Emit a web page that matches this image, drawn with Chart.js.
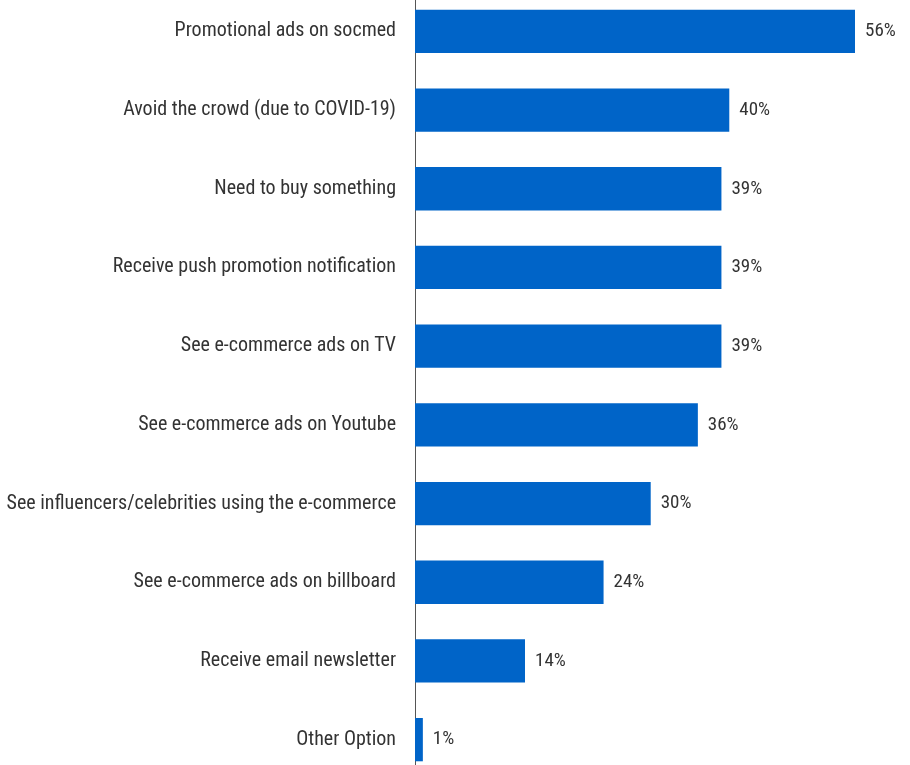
<!DOCTYPE html>
<html>
<head>
<meta charset="utf-8">
<script src="https://cdn.jsdelivr.net/npm/chart.js@4/dist/chart.umd.min.js"></script>
<style>
  html, body { margin: 0; padding: 0; background: #fff; overflow: hidden; }
  #wrap { position: absolute; left: 0; top: -8px; width: 910px; height: 787px; }
</style>
</head>
<body>
<div id="wrap"><canvas id="grafico"></canvas></div>
<script>
// categorias e valores (%)
const categorias = [
    'Promotional ads on socmed',
    'Avoid the crowd (due to COVID-19)',
    'Need to buy something',
    'Receive push promotion notification',
    'See e-commerce ads on TV',
    'See e-commerce ads on Youtube',
    'See influencers/celebrities using the e-commerce',
    'See e-commerce ads on billboard',
    'Receive email newsletter',
    'Other Option'
];
const valores = [56, 40, 39, 39, 39, 36, 30, 24, 14, 1];
const rotulos = ['56%', '40%', '39%', '39%', '39%', '36%', '30%', '24%', '14%', '1%'];

const fonte = "'Roboto Condensed', 'DejaVu Sans Condensed', sans-serif";

// escreve o valor na ponta de cada barra
const rotuloPlugin = {
    id: 'rotuloPlugin',
    afterDatasetsDraw: (chart) => {
        const { ctx } = chart;
        const meta = chart.getDatasetMeta(0);
        ctx.save();
        ctx.fillStyle = '#333';
        ctx.font = '19px ' + fonte;
        ctx.textAlign = 'left';
        ctx.textBaseline = 'middle';
        meta.data.forEach((bar, i) => {
            ctx.fillText(rotulos[i], bar.x + 10, bar.y);
        });
        ctx.restore();
    }
};

const config = {
    type: 'bar',
    data: {
        labels: categorias,
        datasets: [{
            data: valores,
            backgroundColor: '#0064c8',
            borderWidth: 0,
            categoryPercentage: 1,
            barPercentage: 0.55
        }]
    },
    options: {
        indexAxis: 'y',
        responsive: true,
        maintainAspectRatio: false,
        animation: false,
        layout: { padding: 0 },
        plugins: {
            legend: { display: false },
            tooltip: { enabled: false }
        },
        scales: {
            x: {
                display: false,
                min: 0,
                max: 63
            },
            y: {
                afterFit: (scale) => {
                    scale.width = 415;
                    scale.paddingTop = 0;   // sem folga em cima/embaixo
                    scale.paddingBottom = 0;
                },
                grid: { display: false, drawTicks: false },
                border: { display: true, color: '#555', width: 1 },
                ticks: {
                    color: '#333',
                    padding: 19,
                    font: { family: fonte, size: 20 }
                }
            }
        }
    },
    plugins: [rotuloPlugin]
};

const myChart = new Chart('grafico', config);
</script>
</body>
</html>
